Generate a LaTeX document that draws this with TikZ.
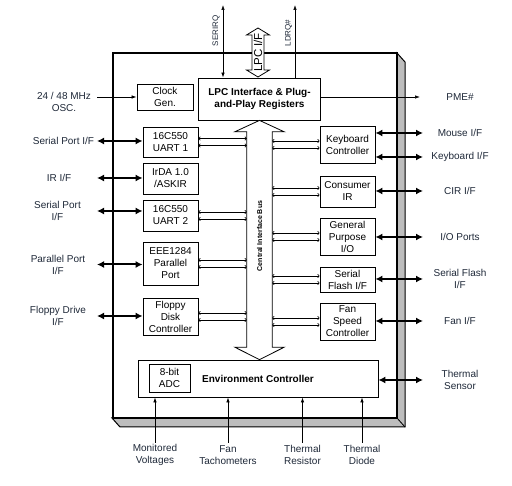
\documentclass[tikz,border=0pt]{standalone}
\usepackage{fontspec}
\setmainfont{Liberation Sans}
\usetikzlibrary{arrows.meta,calc}

\definecolor{lblcol}{HTML}{1E2838}
\definecolor{shadowgray}{gray}{0.74}

\begin{document}
\begin{tikzpicture}[x=1pt, y=-1pt,
		block/.style={draw, line width=0.8pt, align=center, inner sep=0pt, minimum width=55, font=\fontsize{10}{12}\selectfont},
		lbl/.style={align=center, inner sep=0pt, text=lblcol, font=\fontsize{10}{12}\selectfont},
		hollow/.style={draw, fill=white, line width=0.8pt},
		iolink/.style={line width=2pt, {Latex[length=7pt,width=7pt]}-{Latex[length=7pt,width=7pt]}},
		sig/.style={line width=0.7pt, -{Latex[length=5pt,width=3.5pt]}},
		minilink/.style={line width=0.6pt, {Straight Barb[length=1.5pt,width=3.5pt]}-{Straight Barb[length=1.5pt,width=3.5pt]}}
	]
		\useasboundingbox (0,0) rectangle (512,486);

		% chip outline with shadow
		\filldraw[fill=shadowgray, line width=1pt]
			(397,53) --
			(405,62) --
			(405,427) --
			(120,427) --
			(112,418) --
			(397,418) -- cycle;
		\draw[line width=0.8pt] (397,418) -- (405,427);
		\filldraw[fill=white, line width=2pt] (113,53) rectangle (397,418);

		% blocks
		\node[block, minimum width=56, minimum height=26] (clk) at (165,97) {Clock\\Gen.};
		\node[block, minimum width=122, minimum height=42, font=\fontsize{10}{12}\selectfont\bfseries] (lpc) at (259.5,99) {LPC Interface \& Plug-\\and-Play Registers};

		\node[block, minimum height=30] (uartA) at (170.5,142) {16C550\\UART 1};
		\node[block, minimum height=31] (irda) at (170.5,178.5) {IrDA 1.0\\/ASKIR};
		\node[block, minimum height=31] (uartB) at (170.5,215.5) {16C550\\UART 2};
		\node[block, minimum height=43] (lpt) at (170.5,263.5) {EEE1284\\Parallel\\Port};
		\node[block, minimum height=37] (fdc) at (170.5,316.5) {Floppy\\Disk\\Controller};

		\node[block, minimum height=37] (kbc) at (347.5,144.5) {Keyboard\\Controller};
		\node[block, minimum height=31] (cir) at (347.5,191.5) {Consumer\\IR};
		\node[block, minimum height=37] (gpio) at (347.5,236.5) {General\\Purpose\\I/O};
		\node[block, minimum height=25] (sflash) at (347.5,279.5) {Serial\\Flash I/F};
		\node[block, minimum height=37] (fan) at (347.5,321.5) {Fan\\Speed\\Controller};

		\node[block, minimum width=240, minimum height=37, font=\fontsize{10}{12}\selectfont\bfseries] (env) at (258,378.5) {Environment Controller};
		\node[block, minimum width=41, minimum height=28] (adc) at (169.5,378) {8-bit\\ADC};

		% central bus
		\node[minimum width=25, minimum height=215, inner sep=0pt] (bus) at (259.5,239.5) {};
		\draw[hollow] (bus.north west) -- ++(-12,0) -- (bus.center |- lpc.south) -- ([xshift=12pt]bus.north east) -- (bus.north east)
			-- (bus.south east) -- ([xshift=12pt]bus.south east) -- (bus.center |- env.north) -- ([xshift=-12pt]bus.south west) -- (bus.south west) -- cycle;
		\node[rotate=90, inner sep=0pt, font=\fontsize{7}{8}\selectfont\bfseries] (buslbl) at (259.5,236) {Central Interface Bus};

		% LPC bus
		\draw[hollow] (252,35) -- (246.5,35) -- (258,28) -- (269.5,35) -- (264,35) -- (264,70) -- (269.5,70) -- (258,77) -- (246.5,70) -- (252,70) -- cycle;
		\node[rotate=90, inner sep=0pt, font=\fontsize{11.5}{12}\selectfont] (lpcif) at (258,52.5) {LPC I/F};

		\coordinate (irq) at (223,5);
		\coordinate (drq) at (295,5);
		\node[lbl, rotate=90, font=\fontsize{8}{9}\selectfont] (irqlbl) at (216,31) {SERIRQ};
		\node[lbl, rotate=90, font=\fontsize{8}{9}\selectfont] (drqlbl) at (288.5,33) {LDRQ\#};
		\draw[sig, {Latex[length=5pt,width=3.5pt]}-{Latex[length=5pt,width=3.5pt]}] (irq) -- (irq |- lpc.north);
		\draw[sig] (drq |- lpc.north) -- (drq);

		% outside labels
		\coordinate (lx) at (97,0);
		\coordinate (rx) at (423,0);
		\coordinate (by) at (0,443);
		\coordinate (pmeend) at (420,97);

		\node[lbl] (osc) at (64,102) {24 / 48 MHz\\OSC.};
		\node[lbl] (spA) at (63.5,141) {Serial Port I/F};
		\node[lbl] (irif) at (59,178) {IR I/F};
		\node[lbl] (spB) at (57.5,211) {Serial Port\\I/F};
		\node[lbl] (ppif) at (58,264.5) {Parallel Port\\I/F};
		\node[lbl] (fdif) at (58,316) {Floppy Drive\\I/F};

		\node[lbl] (pme) at (460,97) {PME\#};
		\node[lbl] (mouse) at (460,133) {Mouse I/F};
		\node[lbl] (kbif) at (460,157) {Keyboard I/F};
		\node[lbl] (cirif) at (460,191) {CIR I/F};
		\node[lbl] (ioport) at (460,237) {I/O Ports};
		\node[lbl] (sfif) at (460,279) {Serial Flash\\I/F};
		\node[lbl] (fanif) at (460,321) {Fan I/F};
		\node[lbl] (tsens) at (460,380) {Thermal\\Sensor};

		\node[lbl] (mvolt) at (155,455) {Monitored\\Voltages};
		\node[lbl] (ftach) at (228,455) {Fan\\Tachometers};
		\node[lbl] (tres) at (302.5,455) {Thermal\\Resistor};
		\node[lbl] (tdiode) at (362,455) {Thermal\\Diode};

		% connections
		\draw[sig] (clk.west -| lx) -- (clk.west);
		\draw[sig] (lpc.east |- pmeend) -- (pmeend);

		\foreach \l/\b in {spA/uartA, irif/irda, spB/uartB, ppif/lpt, fdif/fdc}
			\draw[iolink] (\l -| lx) -- (\l -| \b.west);
		\foreach \l/\b in {mouse/kbc, kbif/kbc, cirif/cir, ioport/gpio, sfif/sflash, fanif/fan, tsens/env}
			\draw[iolink] (\l -| \b.east) -- (\l -| rx);

		\foreach \l in {mvolt, ftach, tres, tdiode}
			\draw[sig] (\l |- by) -- (\l |- env.south);

		\foreach \b in {uartA, uartB, lpt, fdc} {
			\draw[minilink] ($(\b.east)+(0,-3.5)$) -- ($(\b.east -| bus.west)+(0,-3.5)$);
			\draw[minilink] ($(\b.east)+(0,3.5)$) -- ($(\b.east -| bus.west)+(0,3.5)$);
		}
		\foreach \b in {kbc, cir, gpio, sflash, fan} {
			\draw[minilink] ($(\b.west -| bus.east)+(0,-3.5)$) -- ($(\b.west)+(0,-3.5)$);
			\draw[minilink] ($(\b.west -| bus.east)+(0,3.5)$) -- ($(\b.west)+(0,3.5)$);
		}
	\end{tikzpicture}
\end{document}
